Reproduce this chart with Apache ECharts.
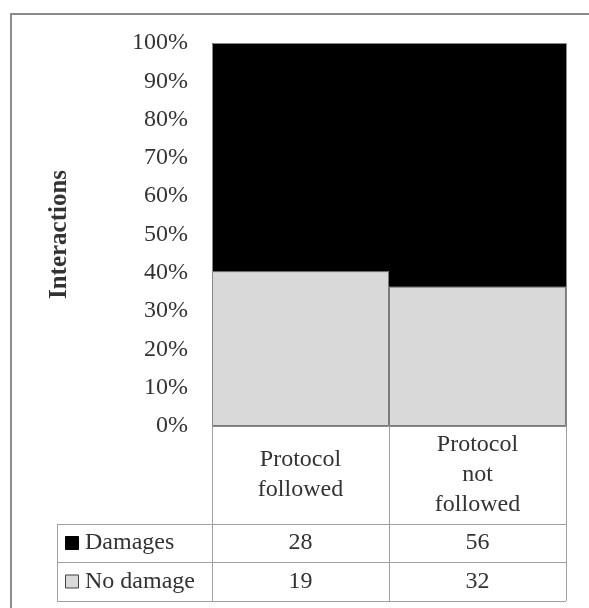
<!DOCTYPE html>
<html>
<head>
<meta charset="utf-8">
<script src="https://cdn.jsdelivr.net/npm/echarts@6/dist/echarts.min.js"></script>
<style>
  html, body { margin: 0; padding: 0; background: #fff; }
  #chart { width: 589px; height: 608px; }
</style>
</head>
<body>
<div id="chart"></div>
<script>
// data
const categories = ['Protocol\nfollowed', 'Protocol\nnot\nfollowed'];
const damages = [28, 56];
const noDamage = [19, 32];
const seriesNames = ['Damages', 'No damage'];

const FONT = 'Liberation Serif';
const TEXT = '#333';
const GRID_LINE = '#a0a0a0';

// share of each category, in %
const totals = damages.map((d, i) => d + noDamage[i]);
const damagesPct = damages.map((d, i) => d / totals[i] * 100);
const noDamagePct = noDamage.map((n, i) => n / totals[i] * 100);

const myChart = echarts.init(document.getElementById('chart'));

const chartOption = {
  animation: false,
  grid: {
    left: 212,
    right: 23,
    top: 43,
    bottom: 182,
    containLabel: false
  },
  xAxis: {
    type: 'category',
    data: categories,
    boundaryGap: true,
    axisLine: { show: false },
    axisTick: {
      show: true,
      interval: 0,
      length: 98,
      lineStyle: { color: GRID_LINE, width: 1 }
    },
    axisLabel: {
      interval: 0,
      margin: 49,
      verticalAlign: 'middle',
      lineHeight: 30,
      fontFamily: FONT,
      fontSize: 24,
      color: TEXT
    }
  },
  yAxis: {
    type: 'value',
    min: 0,
    max: 100,
    interval: 10,
    name: 'Interactions',
    nameLocation: 'middle',
    nameGap: 140,
    nameTextStyle: {
      fontFamily: FONT,
      fontSize: 25,
      fontWeight: 'bold',
      color: TEXT
    },
    splitLine: { show: false },
    axisLine: { show: false },
    axisTick: { show: false },
    axisLabel: {
      margin: 24,
      formatter: '{value}%',
      fontFamily: FONT,
      fontSize: 24,
      color: TEXT
    }
  },
  series: [
    {
      name: seriesNames[1],
      type: 'bar',
      stack: 'total',
      barCategoryGap: '0%',
      data: noDamagePct,
      itemStyle: { color: '#d9d9d9', borderColor: '#7a7a7a', borderWidth: 1 }
    },
    {
      name: seriesNames[0],
      type: 'bar',
      stack: 'total',
      barCategoryGap: '0%',
      data: damagesPct,
      itemStyle: { color: '#000', borderWidth: 0 }
    }
  ]
};
myChart.setOption(chartOption);

// data table under the plot
function buildTable() {
  const xs = categories.map((c, i) => myChart.convertToPixel({ xAxisIndex: 0 }, i));
  const half = (xs[1] - xs[0]) / 2;
  const left = 57;
  const colEdges = [left, xs[0] - half, xs[0] + half, xs[1] + half];
  const yTop = myChart.convertToPixel({ yAxisIndex: 0 }, 100);
  const yBottom = myChart.convertToPixel({ yAxisIndex: 0 }, 0);
  const rowEdges = [524, 562, 601];
  const rows = [
    { name: seriesNames[0], values: damages, fill: '#000', stroke: '#000' },
    { name: seriesNames[1], values: noDamage, fill: '#d9d9d9', stroke: '#404040' }
  ];
  const els = [];

  // outer frame (only top and left visible)
  els.push({
    type: 'rect',
    shape: { x: 11, y: 14, width: 700, height: 700 },
    style: { fill: 'none', stroke: '#8c8c8c', lineWidth: 2 },
    silent: true
  });

  // plot area outline
  els.push({
    type: 'rect',
    z: 10,
    shape: { x: Math.round(colEdges[1]) + 0.5, y: Math.round(yTop) + 0.5, width: Math.round(colEdges[3] - colEdges[1]), height: Math.round(yBottom - yTop) },
    style: { fill: 'none', stroke: '#8a8a8a', lineWidth: 1 },
    silent: true
  });

  rowEdges.forEach(y => {
    els.push({
      type: 'line',
      shape: { x1: left, y1: y + 0.5, x2: colEdges[3], y2: y + 0.5 },
      style: { stroke: GRID_LINE, lineWidth: 1 }
    });
  });
  colEdges.forEach(x => {
    els.push({
      type: 'line',
      shape: { x1: Math.round(x) + 0.5, y1: rowEdges[0], x2: Math.round(x) + 0.5, y2: rowEdges[2] },
      style: { stroke: GRID_LINE, lineWidth: 1 }
    });
  });

  rows.forEach((row, r) => {
    const cy = (rowEdges[r] + rowEdges[r + 1]) / 2;
    els.push({
      type: 'rect',
      shape: { x: 65.5, y: cy - 6.5, width: 13, height: 13 },
      style: { fill: row.fill, stroke: row.stroke, lineWidth: 1 }
    });
    els.push({
      type: 'text',
      x: 85,
      y: cy,
      style: {
        text: row.name,
        fontFamily: FONT,
        fontSize: 24,
        fill: TEXT,
        verticalAlign: 'middle',
        align: 'left'
      }
    });
    row.values.forEach((v, i) => {
      els.push({
        type: 'text',
        x: xs[i],
        y: cy,
        style: {
          text: String(v),
          fontFamily: FONT,
          fontSize: 24,
          fill: TEXT,
          verticalAlign: 'middle',
          align: 'center'
        }
      });
    });
  });

  myChart.setOption({ graphic: els });
}
buildTable();
</script>
</body>
</html>
